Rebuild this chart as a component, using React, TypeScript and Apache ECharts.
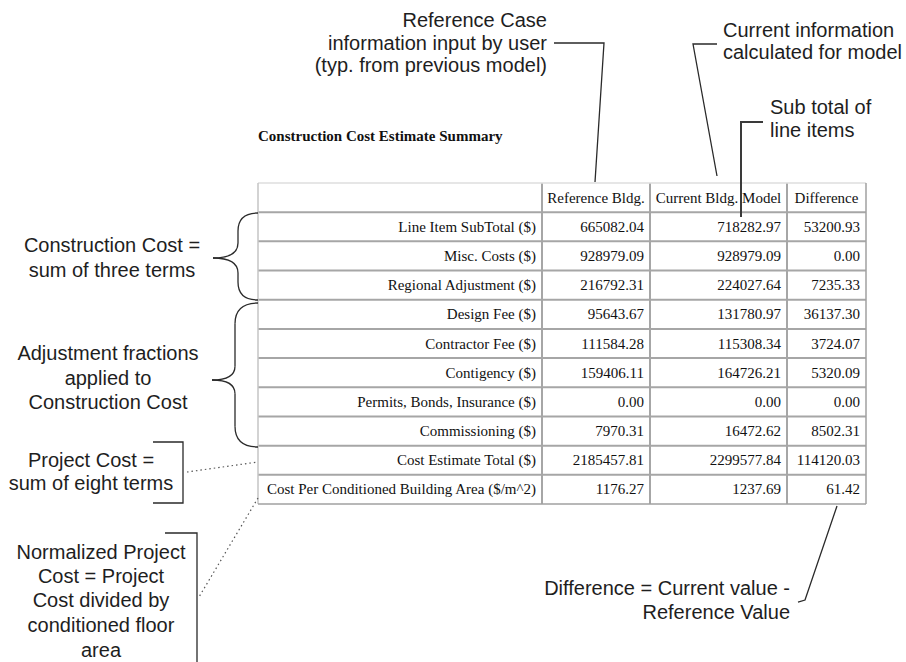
import React, { useEffect, useRef } from "react";
import * as echarts from "echarts";

const chartTitle = "Construction Cost Estimate Summary";
const columnHeaders = ["", "Reference Bldg.", "Current Bldg. Model", "Difference"];
const rowLabels = [
  "Line Item SubTotal ($)",
  "Misc. Costs ($)",
  "Regional Adjustment ($)",
  "Design Fee ($)",
  "Contractor Fee ($)",
  "Contigency ($)",
  "Permits, Bonds, Insurance ($)",
  "Commissioning ($)",
  "Cost Estimate Total ($)",
  "Cost Per Conditioned Building Area ($/m^2)",
];
const referenceValues = [665082.04, 928979.09, 216792.31, 95643.67, 111584.28, 159406.11, 0.0, 7970.31, 2185457.81, 1176.27];
const currentValues = [718282.97, 928979.09, 224027.64, 131780.97, 115308.34, 164726.21, 0.0, 16472.62, 2299577.84, 1237.69];
const differenceValues = [53200.93, 0.0, 7235.33, 36137.3, 3724.07, 5320.09, 0.0, 8502.31, 114120.03, 61.42];

const refCaseNote = ["Reference Case", "information input by user", "(typ. from previous model)"];
const currentNote = ["Current information", "calculated for model"];
const subtotalNote = ["Sub total of", "line items"];
const constructionNote = ["Construction Cost =", "sum of three terms"];
const adjustmentNote = ["Adjustment fractions", "applied to", "Construction Cost"];
const projectNote = ["Project Cost =", "sum of eight terms"];
const normalizedNote = ["Normalized Project", "Cost = Project", "Cost divided by", "conditioned floor", "area"];
const differenceNote = ["Difference = Current value -", "Reference Value"];

const SERIF = "'Liberation Serif', 'Times New Roman', serif";
const SANS = "'Liberation Sans', Arial, sans-serif";
const NOTE_COLOR = "#1e1e1e";
const LINE_COLOR = "#2a2a2a";

function txt(x: number, y: number, s: string, opt: any = {}) {
  return {
    type: "text",
    x,
    y,
    silent: true,
    style: {
      text: s,
      fontFamily: opt.family || SANS,
      fontSize: opt.size || 20,
      fontWeight: opt.weight || "normal",
      fill: opt.color || NOTE_COLOR,
      align: opt.align || "left",
      verticalAlign: "middle",
    },
  };
}

function noteLines(lines: string[], x: number, ys: number[], align: string) {
  return lines.map((s, i) => txt(x, ys[i], s, { align }));
}

function line(x1: number, y1: number, x2: number, y2: number, stroke: string, lw: number, dash?: number[]) {
  return {
    type: "line",
    silent: true,
    shape: { x1, y1, x2, y2 },
    style: { stroke, lineWidth: lw, lineDash: dash || null },
  };
}

function poly(points: number[][], stroke = LINE_COLOR, lw = 1.3) {
  return {
    type: "polyline",
    silent: true,
    shape: { points },
    style: { stroke, lineWidth: lw, fill: "none" },
  };
}

function bez(x1: number, y1: number, c1x: number, c1y: number, c2x: number, c2y: number, x2: number, y2: number) {
  return {
    type: "bezierCurve",
    silent: true,
    shape: { x1, y1, cpx1: c1x, cpy1: c1y, cpx2: c2x, cpy2: c2y, x2, y2 },
    style: { stroke: LINE_COLOR, lineWidth: 1.3, fill: "none" },
  };
}

// curly brace opening to the right: ends at xEnd, body at xBody, tip at (xTip, yTip)
function brace(xEnd: number, yTop: number, yBot: number, xBody: number, xTip: number, yTip: number) {
  const r = xEnd - xBody;
  const t = xBody - xTip;
  return [
    bez(xEnd, yTop, xBody + r * 0.3, yTop, xBody, yTop + r * 0.3, xBody, yTop + r * 0.9),
    line(xBody, yTop + r * 0.9, xBody, yTip - t * 0.6, LINE_COLOR, 1.3),
    bez(xBody, yTip - t * 0.6, xBody, yTip - t * 0.1, xTip + t * 0.5, yTip, xTip, yTip),
    bez(xTip, yTip, xTip + t * 0.5, yTip, xBody, yTip + t * 0.1, xBody, yTip + t * 0.6),
    line(xBody, yTip + t * 0.6, xBody, yBot - r * 0.9, LINE_COLOR, 1.3),
    bez(xBody, yBot - r * 0.9, xBody, yBot - r * 0.3, xBody + r * 0.3, yBot, xEnd, yBot),
  ];
}

function fmt(v: number) {
  return v.toFixed(2);
}

function buildGraphic() {
  const els: any[] = [];
  els.push({ type: "rect", silent: true, shape: { x: 0, y: 0, width: 906, height: 662 }, style: { fill: "#ffffff" } });

  // table geometry
  const colX = [258, 542, 650, 787, 866];
  const top = 183;
  const nRows = rowLabels.length + 1;
  const rowH = (504 - top) / nRows;
  const bottom = top + rowH * nRows;

  // inner grid
  for (let r = 1; r < nRows; r++) {
    const y = top + r * rowH;
    els.push(line(colX[0], y, colX[4], y, "#a6a6a6", 2));
  }
  for (let c = 1; c < 4; c++) {
    els.push(line(colX[c], top, colX[c], bottom, "#a6a6a6", 2));
  }
  // outer border
  els.push(line(colX[0], top, colX[4], top, "#dedede", 1.5));
  els.push(line(colX[0], top, colX[0], bottom, "#c4c4c4", 1.5));
  els.push(line(colX[0], bottom, colX[4], bottom, "#a0a0a0", 1.5));
  els.push(line(colX[4], top, colX[4], bottom, "#a0a0a0", 1.5));

  // header
  const hy = top + rowH / 2;
  for (let c = 1; c < 4; c++) {
    els.push(txt((colX[c] + colX[c + 1]) / 2, hy, columnHeaders[c], { family: SERIF, size: 15, align: "center", color: "#111" }));
  }
  // rows
  rowLabels.forEach((lab, i) => {
    const y = top + rowH * (i + 1.5);
    els.push(txt(colX[1] - 6, y, lab, { family: SERIF, size: 15, align: "right", color: "#111" }));
    els.push(txt(colX[2] - 6, y, fmt(referenceValues[i]), { family: SERIF, size: 15, align: "right", color: "#111" }));
    els.push(txt(colX[3] - 6, y, fmt(currentValues[i]), { family: SERIF, size: 15, align: "right", color: "#111" }));
    els.push(txt(colX[4] - 6, y, fmt(differenceValues[i]), { family: SERIF, size: 15, align: "right", color: "#111" }));
  });

  // title
  els.push(txt(258, 136, chartTitle, { family: SERIF, size: 15, weight: "bold", color: "#111" }));

  // top notes
  els.push(...noteLines(refCaseNote, 547, [20, 43, 65], "right"));
  els.push(poly([[554, 43], [604, 43], [595, 182]]));
  els.push(...noteLines(currentNote, 723, [30, 52], "left"));
  els.push(poly([[717, 44], [693, 44], [717, 176]]));
  els.push(...noteLines(subtotalNote, 770, [107, 130], "left"));
  els.push(poly([[763, 122], [741, 122], [741, 217]], "#3a3a3a", 2));

  // left notes
  els.push(...noteLines(constructionNote, 112, [245, 270], "center"));
  els.push(...brace(258, 213, 300, 238, 213, 258));
  els.push(...noteLines(adjustmentNote, 108, [353, 378, 402], "center"));
  els.push(...brace(258, 303, 447, 235, 212, 380));
  els.push(...noteLines(projectNote, 91, [460, 483], "center"));
  els.push(poly([[153, 442], [183, 442], [183, 503], [153, 503]]));
  els.push(line(187, 472, 258, 462, "#555", 1.2, [1.5, 3]));
  els.push(...noteLines(normalizedNote, 101, [552, 576, 600, 625, 650], "center"));
  els.push(poly([[165, 533], [197, 533], [197, 664]]));
  els.push(line(258, 498, 199, 597, "#555", 1.2, [1.5, 3]));

  // difference note
  els.push(...noteLines(differenceNote, 790, [588, 612], "right"));
  els.push(poly([[798, 602], [805, 600], [837, 506]]));

  return els;
}

export default function App() {
  const ref = useRef<HTMLDivElement>(null);
  useEffect(() => {
    if (!ref.current) return;
    const chart = echarts.init(ref.current, null, { renderer: "svg" });
    chart.setOption({
      animation: false,
      backgroundColor: "#ffffff",
      graphic: { elements: buildGraphic() },
    });
    return () => chart.dispose();
  }, []);
  return (
    <div
      ref={ref}
      style={{ position: "fixed", left: 0, top: 0, width: 906, height: 662, background: "#fff" }}
    />
  );
}
